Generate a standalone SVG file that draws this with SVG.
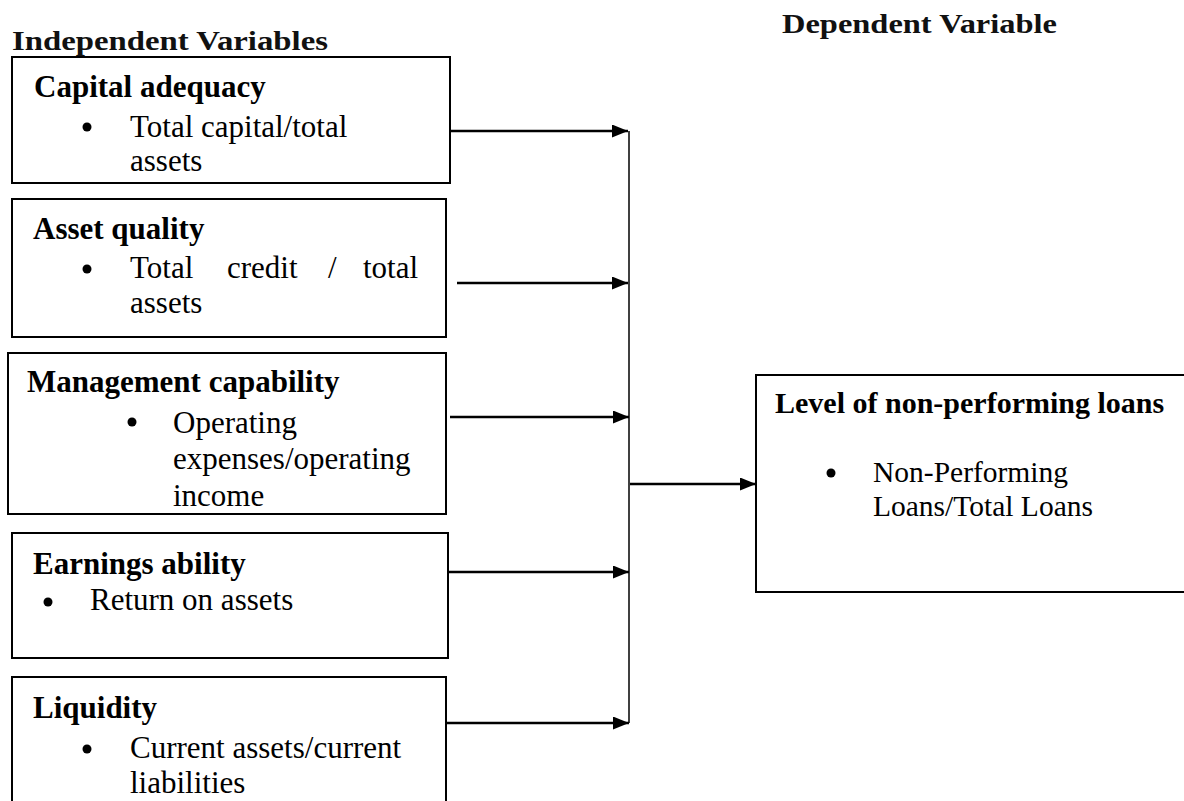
<svg xmlns="http://www.w3.org/2000/svg" width="1184" height="801" viewBox="0 0 1184 801">
<defs>
<style>
.box{fill:#fff;stroke:#000;stroke-width:2}
.h{font-family:"Liberation Serif","Times New Roman",serif;font-weight:bold;font-size:31px;fill:#000}
.t{font-family:"Liberation Serif","Times New Roman",serif;font-size:31px;fill:#000}
.title{font-family:"Liberation Serif","Times New Roman",serif;font-weight:bold;font-size:27px;fill:#111}
.ln{stroke:#000;stroke-width:2.5;fill:none}
.bus{stroke:#000;stroke-width:1.5;fill:none}
</style>
<marker id="ah" viewBox="0 0 16 13" refX="16" refY="6.5" markerWidth="16" markerHeight="13" markerUnits="userSpaceOnUse" orient="auto">
<path d="M0,0 L16,6.5 L0,13 Z" fill="#000"/>
</marker>
<clipPath id="c3"><rect x="8" y="353" width="438" height="159"/></clipPath>
</defs>
<rect width="1184" height="801" fill="#fff"/>
<text class="title" x="12" y="50" textLength="316" lengthAdjust="spacingAndGlyphs">Independent Variables</text>
<text class="title" x="782" y="33" textLength="275" lengthAdjust="spacingAndGlyphs">Dependent Variable</text>

<g id="capital">
<rect class="box" x="12" y="57" width="438" height="126"/>
<text class="h" x="34" y="97">Capital adequacy</text>
<circle cx="87" cy="127" r="4.5"/>
<text class="t" x="130" y="137">Total capital/total</text>
<text class="t" x="130" y="171">assets</text>
</g>

<g id="asset">
<rect class="box" x="12" y="199" width="434" height="138"/>
<text class="h" x="33" y="239">Asset quality</text>
<circle cx="87" cy="269" r="4.5"/>
<text class="t" y="278"><tspan x="130">Total</tspan><tspan x="227">credit</tspan><tspan x="328">/</tspan><tspan x="363">total</tspan></text>
<text class="t" x="130" y="313">assets</text>
</g>

<g id="management">
<rect class="box" x="8" y="353" width="438" height="161"/>
<text class="h" x="27" y="392">Management capability</text>
<circle cx="132" cy="422" r="4.5"/>
<text class="t" x="173" y="433">Operating</text>
<text class="t" x="173" y="469">expenses/operating</text>
<text class="t" x="173" y="506" clip-path="url(#c3)">income</text>
</g>

<g id="earnings">
<rect class="box" x="12" y="533" width="436" height="125"/>
<text class="h" x="33" y="574">Earnings ability</text>
<circle cx="48" cy="602" r="4.5"/>
<text class="t" x="90" y="610" fill="#222">Return on assets</text>
</g>

<g id="liquidity">
<rect class="box" x="12" y="677" width="434" height="140"/>
<text class="h" x="33" y="718">Liquidity</text>
<circle cx="87" cy="749" r="4.5"/>
<text class="t" x="130" y="758">Current assets/current</text>
<text class="t" x="130" y="793">liabilities</text>
</g>

<g id="npl">
<rect class="box" x="756" y="375" width="440" height="217"/>
<text class="h" x="775" y="413" style="font-size:30px">Level of non-performing loans</text>
<circle cx="831" cy="473" r="4.5"/>
<text class="t" x="873" y="482" style="font-size:29.5px">Non-Performing</text>
<text class="t" x="873" y="516" style="font-size:29.5px">Loans/Total Loans</text>
</g>

<g id="connectors">
<line class="bus" x1="629" y1="131" x2="629" y2="723"/>
<line class="ln" x1="450" y1="131" x2="628" y2="131" marker-end="url(#ah)"/>
<line class="ln" x1="457" y1="283" x2="628" y2="283" marker-end="url(#ah)"/>
<line class="ln" x1="450" y1="417" x2="629" y2="417" marker-end="url(#ah)"/>
<line class="ln" x1="448" y1="572" x2="629" y2="572" marker-end="url(#ah)"/>
<line class="ln" x1="446" y1="723" x2="629" y2="723" marker-end="url(#ah)"/>
<line class="ln" x1="630" y1="484" x2="756" y2="484" marker-end="url(#ah)"/>
</g>
</svg>
